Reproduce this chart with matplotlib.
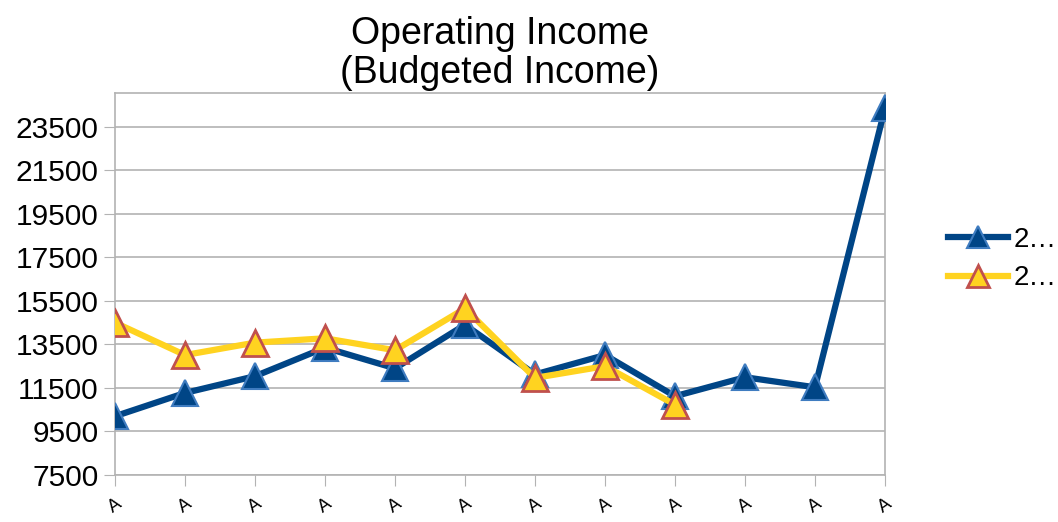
import matplotlib.pyplot as plt

plt.rcParams['font.family'] = ['Liberation Sans', 'DejaVu Sans']

# category labels (clipped in the original) and the two series
categories = ['A'] * 12
series_1 = [10200, 11270, 12040, 13350, 12400, 14400, 12120, 13010, 11120, 11990, 11530, 24350]
series_2 = [14500, 13010, 13580, 13780, 13230, 15150, 11960, 12500, 10730]
legend_labels = ['2…', '2…']
yticks = [7500, 9500, 11500, 13500, 15500, 17500, 19500, 21500, 23500]

fig = plt.figure(figsize=(10.58, 5.22), dpi=100)
ax = fig.add_axes([0.1087, 0.090, 0.7278, 0.732])

x1 = range(len(series_1))
x2 = range(len(series_2))
ax.plot(x1, series_1, color='#004586', lw=4.5, marker='^', ms=19,
        mfc='#004586', mec='#3f7cc0', mew=1.5, label=legend_labels[0], zorder=3)
ax.plot(x2, series_2, color='#ffd320', lw=4.5, marker='^', ms=19,
        mfc='#ffd320', mec='#c0504d', mew=2, label=legend_labels[1], zorder=4)

ax.set_xlim(0, len(categories) - 1)
ax.set_ylim(7500, 25050)
ax.set_yticks(yticks)
ax.set_yticklabels([str(v) for v in yticks], fontsize=21.5)
ax.set_xticks(range(len(categories)))
ax.set_xticklabels(categories, fontsize=13, rotation=35, ha='center', va='top')
ax.tick_params(axis='x', length=8, color='#b3b3b3', pad=7)
ax.tick_params(axis='y', length=8, color='#b3b3b3', pad=4)

ax.grid(axis='y', color='#b3b3b3', lw=1.2)
ax.set_axisbelow(True)
for s in ax.spines.values():
    s.set_color('#b3b3b3')
    s.set_linewidth(1.2)

ax.set_title('Operating Income\n(Budgeted Income)', fontsize=27, pad=7, linespacing=1.12)

ax.legend(loc='center left', bbox_to_anchor=(948 / 1058, 1 - 259 / 522),
          bbox_transform=fig.transFigure, frameon=False, markerscale=0.8,
          fontsize=20, handlelength=2.15, handletextpad=0.2, labelspacing=0.45,
          borderaxespad=0, borderpad=0)

fig.savefig('out.png', dpi=100)
